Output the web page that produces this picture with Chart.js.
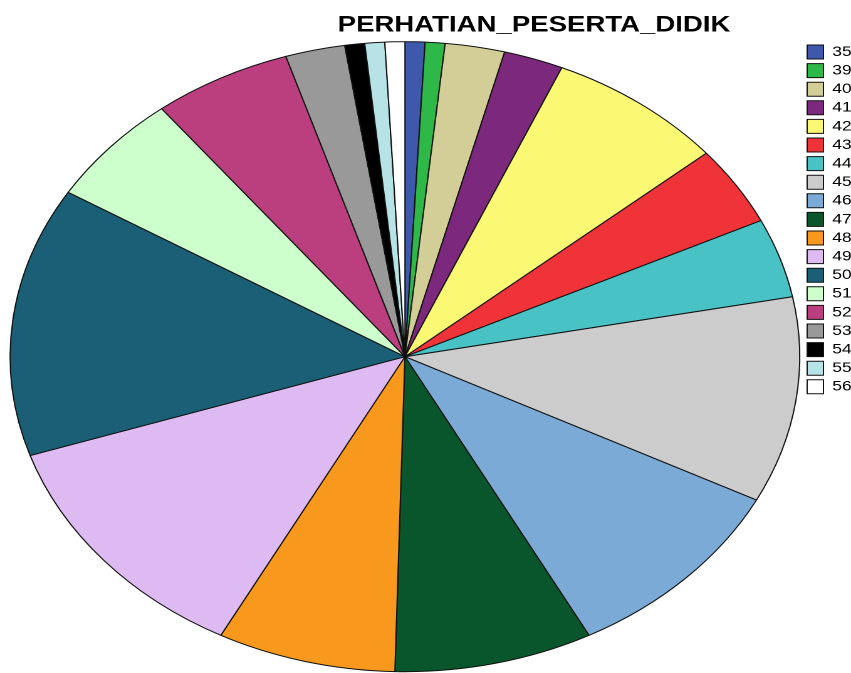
<!DOCTYPE html>
<html>
<head>
<meta charset="utf-8">
<script src="https://cdn.jsdelivr.net/npm/chart.js@4/dist/chart.umd.min.js"></script>
<style>
  html, body { margin: 0; padding: 0; background: #ffffff; overflow: hidden; }
  #wrap {
    position: absolute; left: 0; top: 0;
    width: 679px; height: 673px;
    transform: scale(1.25331, 1);
    transform-origin: 0 0;
  }
</style>
</head>
<body>
<div id="wrap"><canvas id="c" width="679" height="673"></canvas></div>
<script>
// ---- data ----
const chartTitle = 'PERHATIAN_PESERTA_DIDIK';
const categories = ['35','39','40','41','42','43','44','45','46','47','48','49','50','51','52','53','54','55','56'];
const counts     = [ 1,   1,   3,   3,   9,   5,   5,  13,  12,  10,   9,  15,  17,   7,   7,   3,   1,   1,   1 ];

// ---- styling ----
const sliceColors = ['#3e58ac','#2eb848','#d3ce97','#7c287d','#fbf873','#ef3338','#48c2c5','#cccccc',
                     '#7aaad5','#0a562c','#f8981d','#ddbaf1','#1a5f76','#ccffcc','#bb3f7f','#999999',
                     '#000000','#b7e3e6','#ffffff'];

const TITLE_CENTER_X = 426.1;

const titlePlacer = {
  id: 'titlePlacer',
  afterLayout(chart) {
    const t = chart.titleBlock;
    if (t) { t.left = TITLE_CENTER_X - 250; t.right = TITLE_CENTER_X + 250; }
  }
};

new Chart(document.getElementById('c'), {
  type: 'pie',
  data: {
    labels: categories,
    datasets: [{
      data: counts,
      backgroundColor: sliceColors,
      borderColor: '#111111',
      borderWidth: 1,
      radius: 315,
      clip: false
    }]
  },
  options: {
    responsive: false,
    devicePixelRatio: 2,
    animation: false,
    events: [],
    layout: { padding: { left: 6.8, right: 0, top: 0, bottom: 0 } },
    plugins: {
      title: {
        display: true,
        text: chartTitle,
        color: '#000000',
        font: { family: 'Arial, "Liberation Sans", sans-serif', size: 22, weight: 'bold' },
        padding: { top: 12, bottom: 2 }
      },
      legend: {
        display: true,
        position: 'right',
        align: 'start',
        fullSize: false,
        maxWidth: 39.6,
        labels: {
          color: '#000000',
          font: { family: 'Arial, "Liberation Sans", sans-serif', size: 14 },
          boxWidth: 13,
          boxHeight: 14,
          padding: 4.6
        }
      },
      tooltip: { enabled: false }
    }
  },
  plugins: [titlePlacer]
});
</script>
</body>
</html>
